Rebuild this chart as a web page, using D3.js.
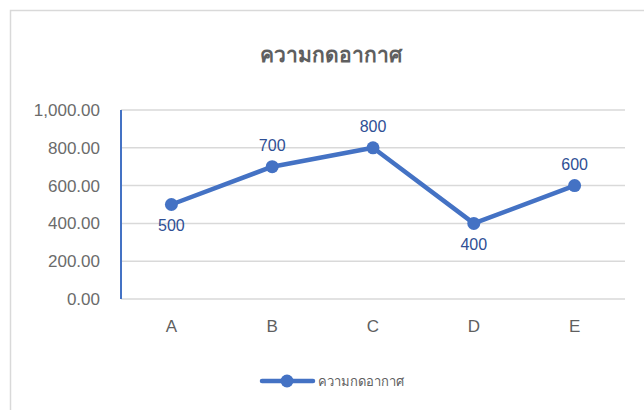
<!DOCTYPE html>
<html><head><meta charset="utf-8">
<script src="https://cdn.jsdelivr.net/npm/d3@7"></script>
<style>body{margin:0;background:#fff;} svg{display:block;font-family:"Liberation Sans","Noto Sans",sans-serif;}</style>
</head><body><svg id="c" width="644" height="410"></svg>
<script>
const categories = ["A","B","C","D","E"];
const values = [500,700,800,400,600];
const labelPos = ["below","above","above","below","above"];
const yTicks = [0,200,400,600,800,1000];
const seriesName = "ความกดอากาศ";
const title = "ความกดอากาศ";

const svg = d3.select("#c");
const blue = "#4472C4", labelBlue = "#2F4F95", grey = "#5f5f5f";

svg.append("rect").attr("x",10.5).attr("y",10.5).attr("width",700).attr("height",500)
  .attr("fill","#fff").attr("stroke","#d9d9d9").attr("stroke-width",1.5);

const L=121, R=625, T=110, B=299;
const x = d3.scaleBand().domain(categories).range([L,R]);
const y = d3.scaleLinear().domain([0,1000]).range([B,T]);

svg.append("text").attr("x",331).attr("y",62).attr("text-anchor","middle")
  .attr("font-family","'Noto Sans',sans-serif").attr("font-weight",600)
  .attr("font-size",21).attr("fill",grey).text(title);

// grid
svg.append("g").selectAll("line").data(yTicks.filter(d=>d>0)).join("line")
  .attr("x1",L).attr("x2",R).attr("y1",d=>y(d)).attr("y2",d=>y(d))
  .attr("stroke","#d9d9d9").attr("stroke-width",1.5);
// x axis
svg.append("line").attr("x1",L).attr("x2",R).attr("y1",B).attr("y2",B).attr("stroke","#d9d9d9").attr("stroke-width",1.5);
// y axis line
svg.append("line").attr("x1",L).attr("x2",L).attr("y1",T).attr("y2",B).attr("stroke",blue).attr("stroke-width",2);

const fmt = d3.format(",.2f");
svg.append("g").selectAll("text").data(yTicks).join("text")
  .attr("x",100).attr("y",d=>y(d)).attr("dy","0.35em").attr("text-anchor","end")
  .attr("font-size",17).attr("fill","#6b6b6b").text(d=>fmt(d));

svg.append("g").selectAll("text").data(categories).join("text")
  .attr("x",d=>x(d)+x.bandwidth()/2).attr("y",326).attr("dy","0.35em").attr("text-anchor","middle")
  .attr("font-size",17).attr("fill",grey).text(d=>d);

const pts = categories.map((c,i)=>({c,v:values[i],p:labelPos[i]}));
const line = d3.line().x(d=>x(d.c)+x.bandwidth()/2).y(d=>y(d.v));
svg.append("path").datum(pts).attr("d",line).attr("fill","none").attr("stroke",blue)
  .attr("stroke-width",4.5).attr("stroke-linejoin","round").attr("stroke-linecap","round");
svg.append("g").selectAll("circle").data(pts).join("circle")
  .attr("cx",d=>x(d.c)+x.bandwidth()/2).attr("cy",d=>y(d.v)).attr("r",6.5).attr("fill",blue);
svg.append("g").selectAll("text").data(pts).join("text")
  .attr("x",d=>x(d.c)+x.bandwidth()/2).attr("y",d=>y(d.v)+(d.p==="above"?-21:21)).attr("dy","0.35em")
  .attr("text-anchor","middle").attr("font-size",16).attr("fill",labelBlue).text(d=>d.v);

// legend
const ly=381;
svg.append("line").attr("x1",262).attr("x2",313).attr("y1",ly).attr("y2",ly).attr("stroke",blue).attr("stroke-width",4.5).attr("stroke-linecap","round");
svg.append("circle").attr("cx",287).attr("cy",ly).attr("r",6.5).attr("fill",blue);
svg.append("text").attr("x",318).attr("y",ly).attr("dy","0.35em").attr("font-family","'Noto Sans',sans-serif")
  .attr("font-size",13).attr("fill",grey).text(seriesName);
</script></body></html>
